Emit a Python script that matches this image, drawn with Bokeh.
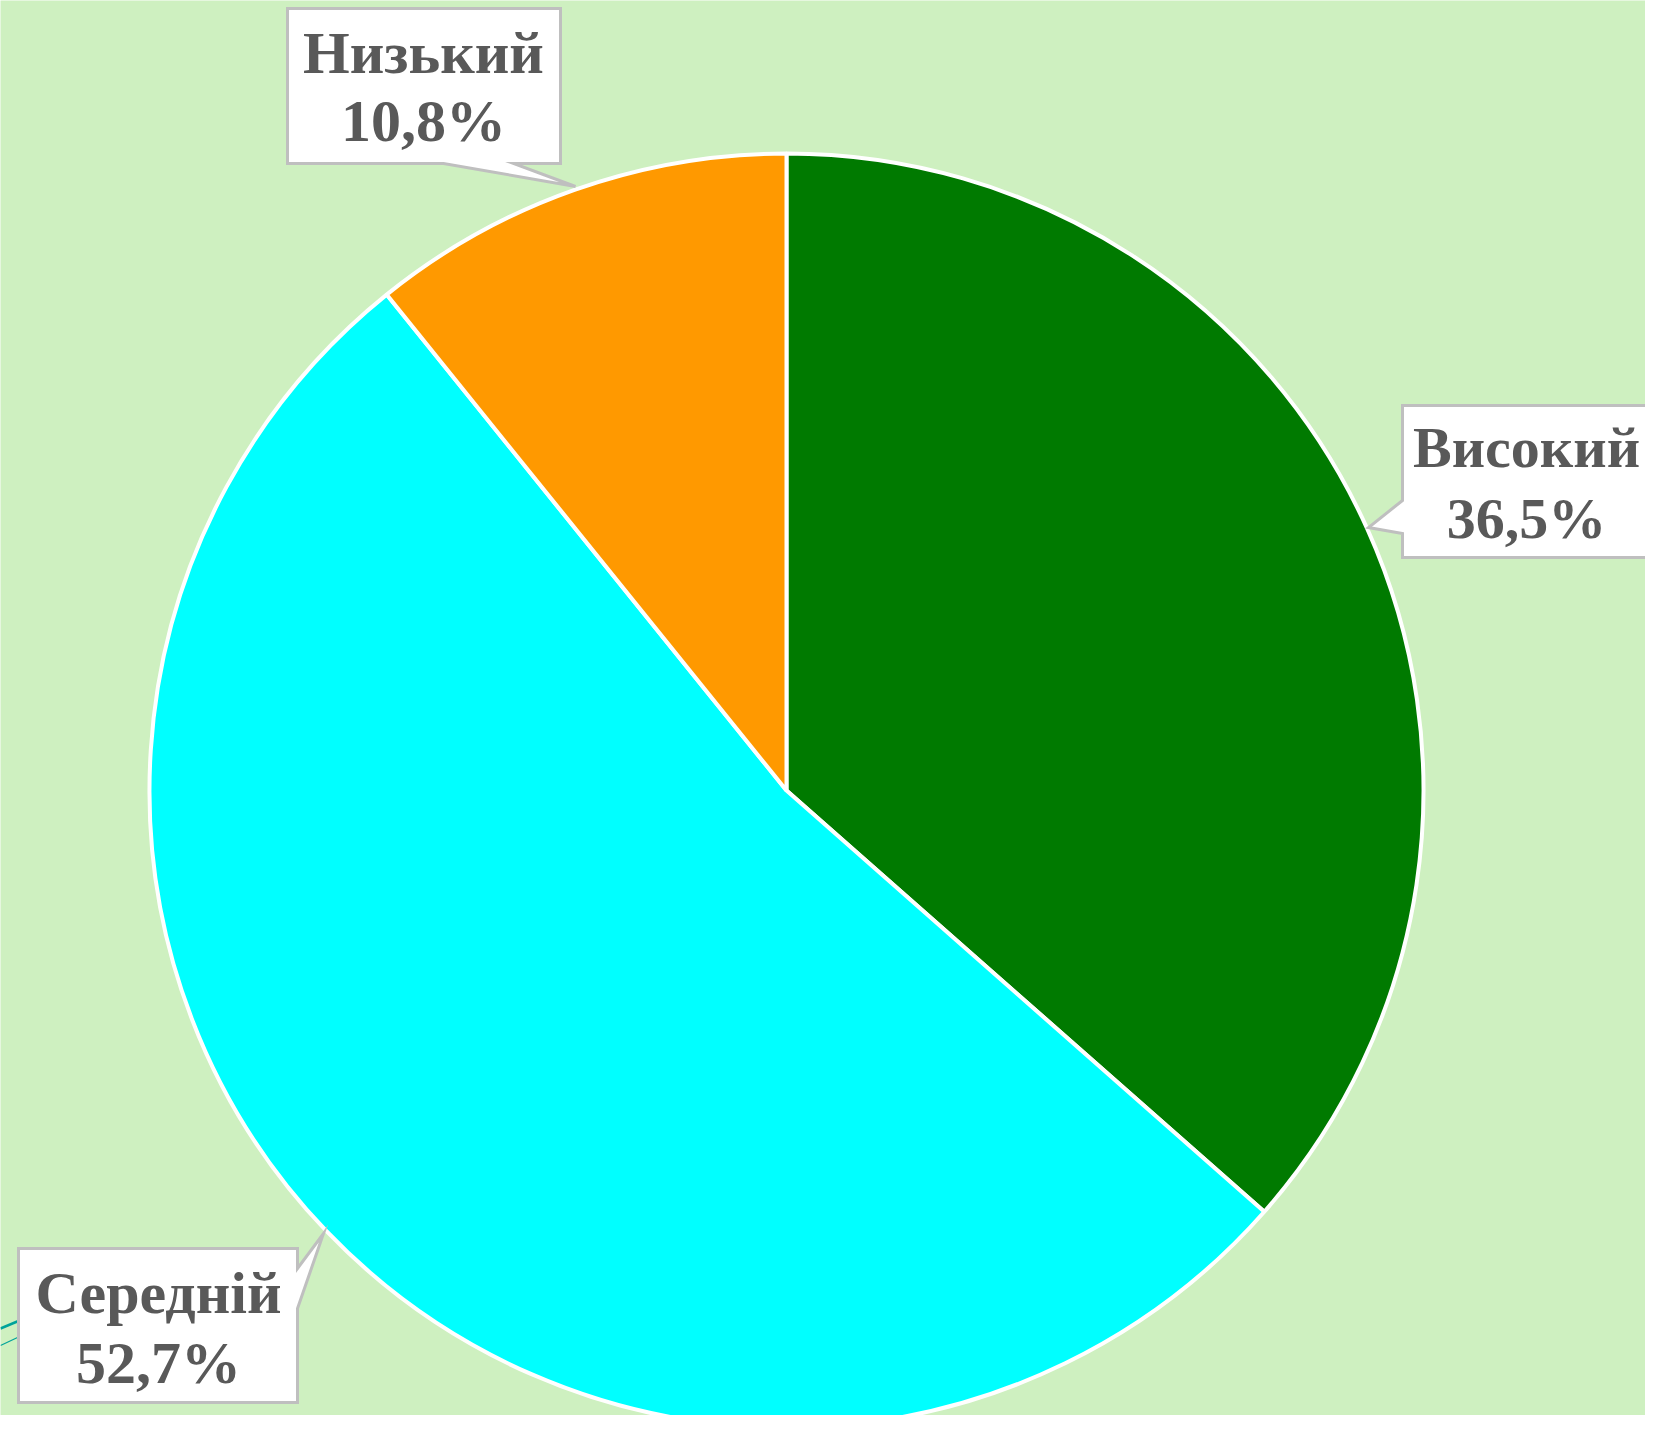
import math
from bokeh.plotting import figure
from bokeh.models import Range1d, ColumnDataSource
from bokeh.core.properties import value
from bokeh.embed import file_html
from bokeh.resources import INLINE

# ---- data ----
categories = ["Високий", "Середній", "Низький"]
shares = [36.5, 52.7, 10.8]
pct_labels = ["36,5%", "52,7%", "10,8%"]
colors = ["#007A00", "#00FFFF", "#FF9900"]

# ---- layout (screen-pixel coordinates, y downward) ----
CX, CY, R = 786, 790, 637
BG = "#CEF0C0"

p = figure(width=1645, height=1415, output_backend="svg", toolbar_location=None,
           x_range=Range1d(0, 1645), y_range=Range1d(-1415, 0),
           min_border=0)
p.axis.visible = False
p.grid.visible = False
p.outline_line_color = None
p.background_fill_color = BG
p.border_fill_color = BG

total = sum(shares)
starts, ends = [], []
a = 90.0
for v in shares:
    starts.append(math.radians(a))
    a -= v / total * 360.0
    ends.append(math.radians(a))

src = ColumnDataSource(dict(cat=categories, start=starts, end=ends, color=colors))
p.wedge(x=CX, y=-CY, radius=R, start_angle="start", end_angle="end",
        direction="clock", fill_color="color", line_color="white", line_width=4,
        source=src)

# decorative teal strokes at lower left
p.segment(x0=[0, 0], y0=[-1328, -1345], x1=[55, 17], y1=[-1305, -1337],
          line_color="#00A39A", line_width=[2.5, 1.2])

# callout boxes: (left, top, right, bottom), pointer polygon inserted on an edge
boxes = {
    "Низький": dict(l=287, t=8, r=560, b=163, tx=423, y1=52, y2=120, fs="60px",
                    ptr=("bottom", 443, 513, (575, 186))),
    "Високий": dict(l=1402, t=405, r=1675, b=557, tx=1526, y1=447, y2=518, fs="58px",
                    ptr=("left", 500, 533, (1368, 527))),
    "Середній": dict(l=18, t=1248, r=297, b=1402, tx=158, y1=1292, y2=1362, fs="60px",
                     ptr=("right", 1268, 1308, (323, 1233))),
}

xs_all, ys_all = [], []
for cat, b in boxes.items():
    l, t, r, bt = b["l"], b["t"], b["r"], b["b"]
    side, s0, s1, tip = b["ptr"]
    if side == "bottom":
        pts = [(l, t), (r, t), (r, bt), (s1, bt), tip, (s0, bt), (l, bt)]
    elif side == "left":
        pts = [(l, t), (r, t), (r, bt), (l, bt), (l, s1), tip, (l, s0)]
    else:  # right
        pts = [(l, t), (r, t), (r, s0), tip, (r, s1), (r, bt), (l, bt)]
    xs_all.append([q[0] for q in pts])
    ys_all.append([-q[1] for q in pts])

p.patches(xs=xs_all, ys=ys_all, fill_color="white", line_color="#BFBFBF",
          line_width=3, line_join="miter")

for cat, lab in zip(categories, pct_labels):
    b = boxes[cat]
    p.text(x=[b["tx"], b["tx"]], y=[-b["y1"], -b["y2"]], text=[cat, lab],
           text_align="center", text_baseline="middle",
           text_font=value("Liberation Serif"), text_font_style="bold",
           text_font_size=b["fs"], text_color="#595959")

open("out.html", "w").write(file_html(p, INLINE))
